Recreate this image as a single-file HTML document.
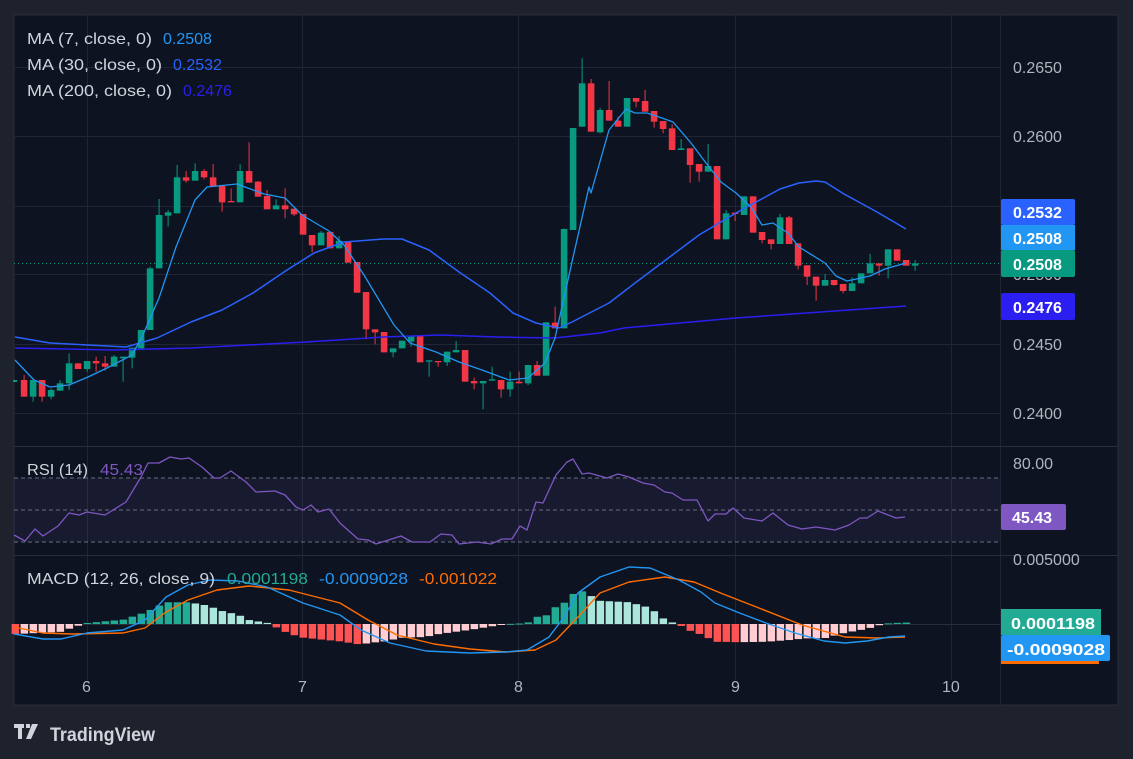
<!DOCTYPE html>
<html><head><meta charset="utf-8"><style>
html,body{margin:0;padding:0;background:#1e222d;width:1133px;height:759px;overflow:hidden;font-family:"Liberation Sans",sans-serif}
svg{position:absolute;left:0;top:0}
</style></head><body>
<svg id="s" width="1133" height="759" xmlns="http://www.w3.org/2000/svg">
<rect x="0" y="0" width="1133" height="759" fill="#1e222d"/>
<rect x="14" y="15" width="1104" height="690" fill="#0d1320" stroke="#2a2e39"/>
<g id="grid" stroke="#1f2533" stroke-width="1"></g>
<line x1="14" y1="446.5" x2="1118" y2="446.5" stroke="#2a2e39"/>
<line x1="14" y1="555.5" x2="1118" y2="555.5" stroke="#2a2e39"/>
<rect x="14" y="478" width="986" height="64" fill="#7e57c2" fill-opacity="0.1"/>
<g stroke="#6a6f80" stroke-dasharray="4,3"><line x1="14" y1="478" x2="1000" y2="478"/><line x1="14" y1="510" x2="1000" y2="510"/><line x1="14" y1="542" x2="1000" y2="542"/></g>
<line x1="14" y1="263.5" x2="1000" y2="263.5" stroke="#089981" stroke-dasharray="1,3"/>
<g id="hist"></g>
<g id="cand"></g>
<g id="lines" fill="none"></g>
<g font-size="16" fill="#d1d4dc">
<text x="27" y="44" textLength="125" lengthAdjust="spacingAndGlyphs">MA (7, close, 0)</text><text x="163" y="44" fill="#2196f3">0.2508</text>
<text x="27" y="70" textLength="135" lengthAdjust="spacingAndGlyphs">MA (30, close, 0)</text><text x="173" y="70" fill="#2962ff">0.2532</text>
<text x="27" y="96" textLength="145" lengthAdjust="spacingAndGlyphs">MA (200, close, 0)</text><text x="183" y="96" fill="#2a1ff0">0.2476</text>
<text x="27" y="475" textLength="61" lengthAdjust="spacingAndGlyphs">RSI (14)</text><text x="100" y="475" fill="#7e57c2" textLength="43" lengthAdjust="spacingAndGlyphs">45.43</text>
<text x="27" y="584" textLength="188" lengthAdjust="spacingAndGlyphs">MACD (12, 26, close, 9)</text>
<text x="227" y="584" fill="#22ab94" textLength="81" lengthAdjust="spacingAndGlyphs">0.0001198</text>
<text x="319" y="584" fill="#2196f3" textLength="89" lengthAdjust="spacingAndGlyphs">-0.0009028</text>
<text x="419" y="584" fill="#ff6d00" textLength="78" lengthAdjust="spacingAndGlyphs">-0.001022</text>
</g>
<g font-size="16" fill="#b2b5be">
<text x="1013" y="73">0.2650</text><text x="1013" y="142">0.2600</text><text x="1013" y="280">0.2500</text>
<text x="1013" y="350">0.2450</text><text x="1013" y="419">0.2400</text>
<text x="1013" y="469">80.00</text><text x="1013" y="565">0.005000</text>
<text x="82" y="692">6</text><text x="298" y="692">7</text><text x="514" y="692">8</text><text x="731" y="692">9</text><text x="942" y="692">10</text>
</g>
<g font-size="16" font-weight="bold" fill="#fff">
<rect x="1001" y="199" width="74" height="26" rx="2" fill="#2962ff"/><text x="1013" y="218">0.2532</text>
<rect x="1001" y="225" width="74" height="25" fill="#2196f3"/><text x="1013" y="244">0.2508</text>
<rect x="1001" y="250" width="74" height="27" rx="2" fill="#089981"/><text x="1013" y="270">0.2508</text>
<rect x="1001" y="293" width="74" height="27" rx="2" fill="#2a1ff0"/><text x="1013" y="313">0.2476</text>
<rect x="1001" y="504" width="65" height="26" rx="2" fill="#7e57c2"/><text x="1012" y="523">45.43</text>
<rect x="1001" y="609" width="100" height="26" fill="#22ab94"/><text x="1011" y="629" textLength="84" lengthAdjust="spacingAndGlyphs">0.0001198</text>
<rect x="1001" y="660" width="98" height="4" fill="#ff6d00"/>
<rect x="1001" y="635" width="109" height="26" rx="2" fill="#2196f3"/><text x="1007" y="655" textLength="98" lengthAdjust="spacingAndGlyphs">-0.0009028</text>
</g>
<g fill="#d1d4dc"><rect x="14" y="724" width="10" height="4"/><rect x="18" y="724" width="4" height="15"/><rect x="26" y="724" width="4" height="4"/><polygon points="32,724 38,724 31,739 26,739"/>
<text x="50" y="741" font-size="19" font-weight="bold" textLength="105" lengthAdjust="spacingAndGlyphs">TradingView</text></g>
</svg>
<script>
const NS="http://www.w3.org/2000/svg";
function el(p,t,a){const e=document.createElementNS(NS,t);for(const k in a)e.setAttribute(k,a[k]);document.getElementById(p).appendChild(e);return e;}
[67,136,206,274,344,413].forEach(y=>el("grid","line",{x1:14,x2:1000,y1:y+.5,y2:y+.5}));
[87,302,518,735,951].forEach(x=>el("grid","line",{x1:x+.5,x2:x+.5,y1:15,y2:680}));
el("grid","line",{x1:1000.5,x2:1000.5,y1:15,y2:705,stroke:"#1f2533"});
el("grid","line",{x1:14,x2:1000,y1:624.5,y2:624.5,stroke:"#2a2e39"});
const C=[["r",1140,1190,1125,1190],["g",1140,1190,1140,1205],["r",1140,1190,1140,1205],["g",1170,1190,1165,1198],["g",1150,1172,1140,1172],["g",1090,1150,1060,1170],["r",1090,1107,1090,1107],["g",1083,1107,1083,1115],["r",1083,1090,1070,1115],["r",1090,1100,1068,1112],["g",1070,1100,1065,1100],["g",1070,1075,1070,1145],["g",1043,1073,1043,1105],["g",990,1045,990,1045],["g",805,990,800,990],["g",645,805,597,805],["g",637,647,630,680],["g",532,640,495,640],["r",532,542,513,548],["g",513,542,490,542],["r",513,532,507,538],["r",532,560,492,560],["r",558,607,558,635],["r",603,607,565,607],["g",513,607,493,607],["r",513,548,427,548],["r",545,590,543,590],["r",588,628,570,628],["g",616,628,598,628],["r",616,628,565,655],["r",626,643,626,648],["r",642,704,642,704],["r",705,736,705,757],["g",698,736,693,736],["r",696,745,696,745],["g",722,745,708,745],["r",723,788,723,788],["r",786,878,786,878],["r",876,988,876,1018],["r",988,997,988,1033],["r",996,1057,996,1057],["g",1045,1057,1045,1072],["g",1022,1045,1022,1045],["g",1008,1025,1008,1040],["r",1008,1087,1008,1087],["g",1081,1085,1081,1130],["r",1083,1087,1083,1100],["g",1055,1087,1055,1098],["g",1050,1057,1023,1057],["r",1050,1145,1050,1145],["r",1143,1150,1133,1168],["g",1143,1150,1143,1228],["g",1138,1142,1100,1142],["r",1140,1168,1140,1193],["g",1145,1168,1115,1190],["r",1145,1150,1115,1150],["g",1095,1150,1095,1155],["r",1095,1127,1083,1127],["g",967,1127,967,1127],["r",968,985,920,985],["g",687,985,685,985],["g",384,690,384,690],["g",250,380,175,380],["r",250,395,237,395],["g",330,397,323,400],
["r",330,362,243,362],["r",362,380,350,380],["g",294,380,294,380],["r",294,305,294,322],["r",303,335,270,335],["r",333,365,333,383],["r",363,387,363,400],["r",385,450,373,450],["g",445,450,417,450],["r",445,495,445,548],["r",492,515,492,545],["g",498,515,432,515],["r",498,718,498,718],["g",640,718,630,718],["r",638,642,638,663],["g",589,645,589,645],["r",589,698,589,698],["r",696,720,696,730],["r",718,732,718,748],["g",652,732,642,732],["r",652,732,648,732],["r",730,797,730,808],["r",796,830,796,855],["r",830,857,830,902],["g",840,857,822,857],["r",840,855,840,857],["r",852,873,852,880],["g",850,873,832,873],["g",820,850,820,850],["g",790,820,762,820],["r",790,797,790,827],["g",748,797,748,835],["r",748,782,748,782],["r",780,797,780,797],["g",790,797,780,812]];
el("cand","rect",{x:13,y:380,width:4,height:2,fill:"#089981"});
C.forEach((c,i)=>{const x=24.1+i*(882/98);const col=c[0]=="g"?"#089981":"#f23645";
el("cand","line",{x1:x,x2:x,y1:c[3]/3,y2:c[4]/3,stroke:col,"stroke-width":1});
el("cand","rect",{x:x-3.3,y:c[1]/3,width:6.6,height:Math.max(1.2,(c[2]-c[1])/3),fill:col});});
function pl(pts,col,w){el("lines","polyline",{points:pts.map(p=>p.join(",")).join(" "),stroke:col,"stroke-width":w||1.3,"stroke-linejoin":"round"});}
pl([[15,348],[115,350],[191,348],[306,342],[383,337],[440,335],[497,337],[555,338],[600,333],[624,328],[736,318],[906,306]],"#2a1ff0",1.5);
pl([[15,337],[50,343],[126,347],[157,338],[191,322],[222,310],[253,293],[287,270],[314,253],[344,242],[383,239],[402,239],[429,250],[459,272],[490,293],[513,313],[536,323],[559,328],[572,322],[609,303],[643,277],[699,235],[736,213],[780,189],[799,183],[816,181],[825,182],[844,194],[877,212],[906,229]],"#2962ff",1.5);
pl([[15,360],[34,380],[50,387],[69,385],[88,377],[107,368],[132,355],[142,337],[159,298],[176,247],[195,200],[207,187],[237,184],[264,194],[285,198],[302,215],[329,231],[344,245],[364,275],[379,300],[394,325],[410,343],[436,352],[459,362],[482,370],[509,380],[528,378],[545,363],[555,338],[574,253],[589,187],[591,193],[609,130],[626,109],[635,113],[647,113],[662,118],[673,122],[691,143],[706,163],[721,182],[736,193],[751,207],[762,225],[773,223],[788,233],[799,247],[825,263],[836,276],[847,281],[870,276],[885,269],[906,263]],"#2196f3",1.3);
pl([[14,535],[25,541],[35,529],[43,536],[58,526],[69,513],[79,515],[87,512],[105,515],[126,502],[141,477],[148,463],[159,463],[170,457],[181,459],[189,458],[202,467],[214,478],[220,478],[231,471],[246,482],[256,492],[275,491],[285,495],[296,507],[303,510],[311,505],[318,512],[329,509],[340,523],[358,539],[368,540],[376,544],[401,536],[412,542],[430,542],[441,534],[452,535],[459,544],[477,542],[491,544],[502,539],[512,539],[520,526],[527,530],[536,502],[543,503],[556,475],[567,462],[573,459],[582,474],[589,473],[607,478],[618,474],[629,477],[643,483],[654,485],[665,492],[672,493],[683,500],[697,500],[708,521],[715,514],[726,514],[733,508],[744,518],[762,521],[773,513],[788,525],[802,529],[816,527],[835,530],[849,525],[860,518],[867,518],[878,511],[896,518],[905,517]],"#7e57c2",1.3);
const M=[[14,634],[43,639],[61,639],[87,633],[123,630],[145,620],[166,597],[188,585],[210,580],[238,581],[267,587],[303,603],[340,615],[361,630],[390,643],[426,651],[470,653],[506,652],[527,650],[549,637],[564,617],[578,593],[600,577],[629,567],[650,568],[679,580],[701,592],[715,603],[737,612],[766,623],[795,633],[824,641],[845,643],[867,641],[889,637],[905,636]];
const S=[[14,627],[43,633],[72,634],[123,633],[145,628],[166,612],[188,600],[217,590],[249,586],[289,590],[340,603],[368,620],[397,635],[434,644],[470,649],[506,652],[535,650],[556,640],[578,617],[600,593],[629,582],[665,577],[694,582],[723,594],[759,608],[802,625],[845,637],[878,638],[905,637]];
function it(a,x){for(let i=0;i<a.length-1;i++){if(x>=a[i][0]&&x<=a[i+1][0]){const t=(x-a[i][0])/(a[i+1][0]-a[i][0]);return a[i][1]+t*(a[i+1][1]-a[i][1]);}}return x<a[0][0]?a[0][1]:a[a.length-1][1];}
let prev=null;
for(let i=-1;i<99;i++){const x=24.1+i*(882/98);const h=1.45*(it(S,x)-it(M,x));let col;
if(h>=0)col=(prev===null||h>=prev)?"#22ab94":"#ace5dc";else col=(prev===null||h<=prev)?"#ff5252":"#ffcdd2";
prev=h;const y0=624;el("hist","rect",{x:x-3.5,y:h>=0?y0-h:y0,width:7.5,height:Math.max(1,Math.abs(h)),fill:col});}
pl(S,"#ff6d00",1.4);pl(M,"#2196f3",1.4);
</script>
</body></html>
